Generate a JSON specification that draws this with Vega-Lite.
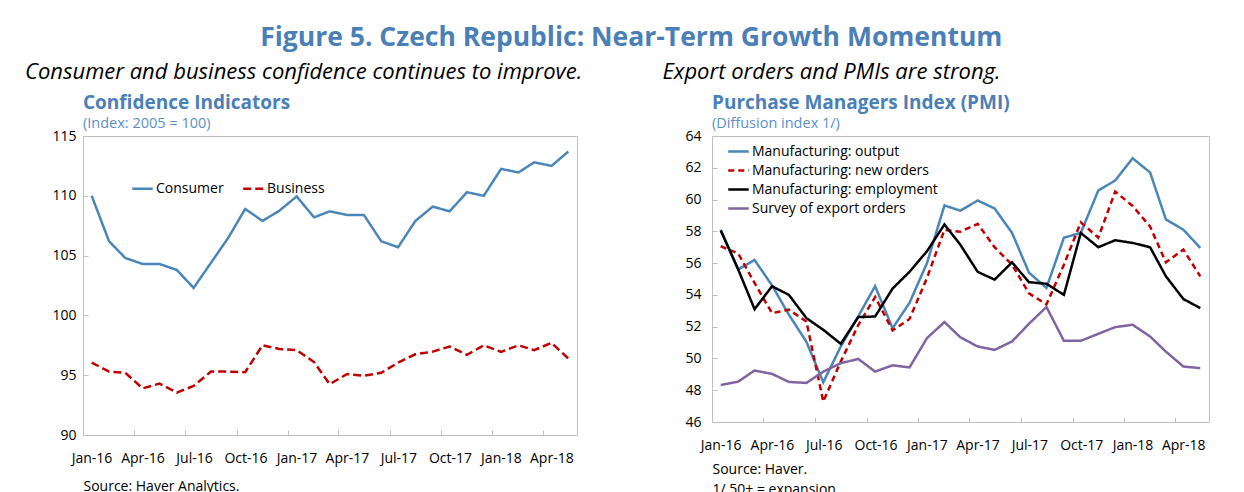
{
  "$schema": "https://vega.github.io/schema/vega-lite/v6.json",
  "padding": {"left": 24, "top": 24, "right": 0, "bottom": 0},
  "background": "white",
  "title": {"text": "Figure 5. Czech Republic: Near-Term Growth Momentum", "anchor": "middle", "fontSize": 26.5, "fontWeight": "bold", "color": "#4a7fb8", "font": "Open Sans", "offset": 10, "dx": 14},
  "resolve": {"scale": {"color": "independent", "strokeDash": "independent", "strokeWidth": "independent"}, "legend": {"color": "independent", "strokeDash": "independent", "strokeWidth": "independent"}},
  "datasets": {
    "conf": [
      {"date": "2016-01-01", "series": "Consumer", "value": 110.0},
      {"date": "2016-02-01", "series": "Consumer", "value": 106.2},
      {"date": "2016-03-01", "series": "Consumer", "value": 104.8},
      {"date": "2016-04-01", "series": "Consumer", "value": 104.3},
      {"date": "2016-05-01", "series": "Consumer", "value": 104.3},
      {"date": "2016-06-01", "series": "Consumer", "value": 103.8},
      {"date": "2016-07-01", "series": "Consumer", "value": 102.3},
      {"date": "2016-08-01", "series": "Consumer", "value": 104.4},
      {"date": "2016-09-01", "series": "Consumer", "value": 106.5},
      {"date": "2016-10-01", "series": "Consumer", "value": 108.9},
      {"date": "2016-11-01", "series": "Consumer", "value": 107.9},
      {"date": "2016-12-01", "series": "Consumer", "value": 108.75},
      {"date": "2017-01-01", "series": "Consumer", "value": 109.95},
      {"date": "2017-02-01", "series": "Consumer", "value": 108.2},
      {"date": "2017-03-01", "series": "Consumer", "value": 108.7},
      {"date": "2017-04-01", "series": "Consumer", "value": 108.4},
      {"date": "2017-05-01", "series": "Consumer", "value": 108.4},
      {"date": "2017-06-01", "series": "Consumer", "value": 106.2},
      {"date": "2017-07-01", "series": "Consumer", "value": 105.7},
      {"date": "2017-08-01", "series": "Consumer", "value": 107.9},
      {"date": "2017-09-01", "series": "Consumer", "value": 109.1},
      {"date": "2017-10-01", "series": "Consumer", "value": 108.7},
      {"date": "2017-11-01", "series": "Consumer", "value": 110.3},
      {"date": "2017-12-01", "series": "Consumer", "value": 110.0},
      {"date": "2018-01-01", "series": "Consumer", "value": 112.25},
      {"date": "2018-02-01", "series": "Consumer", "value": 111.95},
      {"date": "2018-03-01", "series": "Consumer", "value": 112.8},
      {"date": "2018-04-01", "series": "Consumer", "value": 112.5},
      {"date": "2018-05-01", "series": "Consumer", "value": 113.7},
      {"date": "2016-01-01", "series": "Business", "value": 96.06},
      {"date": "2016-02-01", "series": "Business", "value": 95.3},
      {"date": "2016-03-01", "series": "Business", "value": 95.2},
      {"date": "2016-04-01", "series": "Business", "value": 93.9},
      {"date": "2016-05-01", "series": "Business", "value": 94.3},
      {"date": "2016-06-01", "series": "Business", "value": 93.55},
      {"date": "2016-07-01", "series": "Business", "value": 94.1},
      {"date": "2016-08-01", "series": "Business", "value": 95.3},
      {"date": "2016-09-01", "series": "Business", "value": 95.3},
      {"date": "2016-10-01", "series": "Business", "value": 95.25},
      {"date": "2016-11-01", "series": "Business", "value": 97.5},
      {"date": "2016-12-01", "series": "Business", "value": 97.2},
      {"date": "2017-01-01", "series": "Business", "value": 97.1},
      {"date": "2017-02-01", "series": "Business", "value": 96.1},
      {"date": "2017-03-01", "series": "Business", "value": 94.25},
      {"date": "2017-04-01", "series": "Business", "value": 95.1},
      {"date": "2017-05-01", "series": "Business", "value": 94.95},
      {"date": "2017-06-01", "series": "Business", "value": 95.2},
      {"date": "2017-07-01", "series": "Business", "value": 96.05},
      {"date": "2017-08-01", "series": "Business", "value": 96.75},
      {"date": "2017-09-01", "series": "Business", "value": 96.97},
      {"date": "2017-10-01", "series": "Business", "value": 97.4},
      {"date": "2017-11-01", "series": "Business", "value": 96.7},
      {"date": "2017-12-01", "series": "Business", "value": 97.5},
      {"date": "2018-01-01", "series": "Business", "value": 96.95},
      {"date": "2018-02-01", "series": "Business", "value": 97.5},
      {"date": "2018-03-01", "series": "Business", "value": 97.1},
      {"date": "2018-04-01", "series": "Business", "value": 97.7},
      {"date": "2018-05-01", "series": "Business", "value": 96.4}
    ],
    "pmi": [
      {"date": "2016-01-01", "series": "Manufacturing: output", "value": 58.1},
      {"date": "2016-02-01", "series": "Manufacturing: output", "value": 55.6},
      {"date": "2016-03-01", "series": "Manufacturing: output", "value": 56.2},
      {"date": "2016-04-01", "series": "Manufacturing: output", "value": 54.6},
      {"date": "2016-05-01", "series": "Manufacturing: output", "value": 52.75},
      {"date": "2016-06-01", "series": "Manufacturing: output", "value": 51.05},
      {"date": "2016-07-01", "series": "Manufacturing: output", "value": 48.5},
      {"date": "2016-08-01", "series": "Manufacturing: output", "value": 50.75},
      {"date": "2016-09-01", "series": "Manufacturing: output", "value": 52.65},
      {"date": "2016-10-01", "series": "Manufacturing: output", "value": 54.55},
      {"date": "2016-11-01", "series": "Manufacturing: output", "value": 51.9},
      {"date": "2016-12-01", "series": "Manufacturing: output", "value": 53.5},
      {"date": "2017-01-01", "series": "Manufacturing: output", "value": 56.0},
      {"date": "2017-02-01", "series": "Manufacturing: output", "value": 59.63},
      {"date": "2017-03-01", "series": "Manufacturing: output", "value": 59.3},
      {"date": "2017-04-01", "series": "Manufacturing: output", "value": 59.94},
      {"date": "2017-05-01", "series": "Manufacturing: output", "value": 59.44},
      {"date": "2017-06-01", "series": "Manufacturing: output", "value": 57.9},
      {"date": "2017-07-01", "series": "Manufacturing: output", "value": 55.4},
      {"date": "2017-08-01", "series": "Manufacturing: output", "value": 54.44},
      {"date": "2017-09-01", "series": "Manufacturing: output", "value": 57.6},
      {"date": "2017-10-01", "series": "Manufacturing: output", "value": 57.9},
      {"date": "2017-11-01", "series": "Manufacturing: output", "value": 60.57},
      {"date": "2017-12-01", "series": "Manufacturing: output", "value": 61.2},
      {"date": "2018-01-01", "series": "Manufacturing: output", "value": 62.6},
      {"date": "2018-02-01", "series": "Manufacturing: output", "value": 61.7},
      {"date": "2018-03-01", "series": "Manufacturing: output", "value": 58.75},
      {"date": "2018-04-01", "series": "Manufacturing: output", "value": 58.1},
      {"date": "2018-05-01", "series": "Manufacturing: output", "value": 56.96},
      {"date": "2016-01-01", "series": "Manufacturing: new orders", "value": 57.06},
      {"date": "2016-02-01", "series": "Manufacturing: new orders", "value": 56.6},
      {"date": "2016-03-01", "series": "Manufacturing: new orders", "value": 54.75},
      {"date": "2016-04-01", "series": "Manufacturing: new orders", "value": 52.85},
      {"date": "2016-05-01", "series": "Manufacturing: new orders", "value": 53.07},
      {"date": "2016-06-01", "series": "Manufacturing: new orders", "value": 52.33},
      {"date": "2016-07-01", "series": "Manufacturing: new orders", "value": 47.28},
      {"date": "2016-08-01", "series": "Manufacturing: new orders", "value": 49.8},
      {"date": "2016-09-01", "series": "Manufacturing: new orders", "value": 52.1},
      {"date": "2016-10-01", "series": "Manufacturing: new orders", "value": 53.87},
      {"date": "2016-11-01", "series": "Manufacturing: new orders", "value": 51.76},
      {"date": "2016-12-01", "series": "Manufacturing: new orders", "value": 52.48},
      {"date": "2017-01-01", "series": "Manufacturing: new orders", "value": 55.07},
      {"date": "2017-02-01", "series": "Manufacturing: new orders", "value": 58.1},
      {"date": "2017-03-01", "series": "Manufacturing: new orders", "value": 57.97},
      {"date": "2017-04-01", "series": "Manufacturing: new orders", "value": 58.47},
      {"date": "2017-05-01", "series": "Manufacturing: new orders", "value": 57.0},
      {"date": "2017-06-01", "series": "Manufacturing: new orders", "value": 55.9},
      {"date": "2017-07-01", "series": "Manufacturing: new orders", "value": 54.1},
      {"date": "2017-08-01", "series": "Manufacturing: new orders", "value": 53.4},
      {"date": "2017-09-01", "series": "Manufacturing: new orders", "value": 55.9},
      {"date": "2017-10-01", "series": "Manufacturing: new orders", "value": 58.57},
      {"date": "2017-11-01", "series": "Manufacturing: new orders", "value": 57.6},
      {"date": "2017-12-01", "series": "Manufacturing: new orders", "value": 60.5},
      {"date": "2018-01-01", "series": "Manufacturing: new orders", "value": 59.6},
      {"date": "2018-02-01", "series": "Manufacturing: new orders", "value": 58.3},
      {"date": "2018-03-01", "series": "Manufacturing: new orders", "value": 56.05},
      {"date": "2018-04-01", "series": "Manufacturing: new orders", "value": 56.85},
      {"date": "2018-05-01", "series": "Manufacturing: new orders", "value": 55.17},
      {"date": "2016-01-01", "series": "Manufacturing: employment", "value": 58.05},
      {"date": "2016-02-01", "series": "Manufacturing: employment", "value": 55.6},
      {"date": "2016-03-01", "series": "Manufacturing: employment", "value": 53.1},
      {"date": "2016-04-01", "series": "Manufacturing: employment", "value": 54.54},
      {"date": "2016-05-01", "series": "Manufacturing: employment", "value": 54.0},
      {"date": "2016-06-01", "series": "Manufacturing: employment", "value": 52.54},
      {"date": "2016-07-01", "series": "Manufacturing: employment", "value": 51.8},
      {"date": "2016-08-01", "series": "Manufacturing: employment", "value": 50.92},
      {"date": "2016-09-01", "series": "Manufacturing: employment", "value": 52.6},
      {"date": "2016-10-01", "series": "Manufacturing: employment", "value": 52.64},
      {"date": "2016-11-01", "series": "Manufacturing: employment", "value": 54.4},
      {"date": "2016-12-01", "series": "Manufacturing: employment", "value": 55.45},
      {"date": "2017-01-01", "series": "Manufacturing: employment", "value": 56.75},
      {"date": "2017-02-01", "series": "Manufacturing: employment", "value": 58.43},
      {"date": "2017-03-01", "series": "Manufacturing: employment", "value": 57.17},
      {"date": "2017-04-01", "series": "Manufacturing: employment", "value": 55.45},
      {"date": "2017-05-01", "series": "Manufacturing: employment", "value": 54.96},
      {"date": "2017-06-01", "series": "Manufacturing: employment", "value": 56.05},
      {"date": "2017-07-01", "series": "Manufacturing: employment", "value": 54.8},
      {"date": "2017-08-01", "series": "Manufacturing: employment", "value": 54.7},
      {"date": "2017-09-01", "series": "Manufacturing: employment", "value": 54.0},
      {"date": "2017-10-01", "series": "Manufacturing: employment", "value": 57.9},
      {"date": "2017-11-01", "series": "Manufacturing: employment", "value": 57.0},
      {"date": "2017-12-01", "series": "Manufacturing: employment", "value": 57.44},
      {"date": "2018-01-01", "series": "Manufacturing: employment", "value": 57.27},
      {"date": "2018-02-01", "series": "Manufacturing: employment", "value": 57.0},
      {"date": "2018-03-01", "series": "Manufacturing: employment", "value": 55.17},
      {"date": "2018-04-01", "series": "Manufacturing: employment", "value": 53.74},
      {"date": "2018-05-01", "series": "Manufacturing: employment", "value": 53.17},
      {"date": "2016-01-01", "series": "Survey of export orders", "value": 48.33},
      {"date": "2016-02-01", "series": "Survey of export orders", "value": 48.54},
      {"date": "2016-03-01", "series": "Survey of export orders", "value": 49.24},
      {"date": "2016-04-01", "series": "Survey of export orders", "value": 49.03},
      {"date": "2016-05-01", "series": "Survey of export orders", "value": 48.52},
      {"date": "2016-06-01", "series": "Survey of export orders", "value": 48.46},
      {"date": "2016-07-01", "series": "Survey of export orders", "value": 49.17},
      {"date": "2016-08-01", "series": "Survey of export orders", "value": 49.7},
      {"date": "2016-09-01", "series": "Survey of export orders", "value": 49.97},
      {"date": "2016-10-01", "series": "Survey of export orders", "value": 49.17},
      {"date": "2016-11-01", "series": "Survey of export orders", "value": 49.57},
      {"date": "2016-12-01", "series": "Survey of export orders", "value": 49.43},
      {"date": "2017-01-01", "series": "Survey of export orders", "value": 51.28},
      {"date": "2017-02-01", "series": "Survey of export orders", "value": 52.29},
      {"date": "2017-03-01", "series": "Survey of export orders", "value": 51.34},
      {"date": "2017-04-01", "series": "Survey of export orders", "value": 50.75},
      {"date": "2017-05-01", "series": "Survey of export orders", "value": 50.54},
      {"date": "2017-06-01", "series": "Survey of export orders", "value": 51.07},
      {"date": "2017-07-01", "series": "Survey of export orders", "value": 52.18},
      {"date": "2017-08-01", "series": "Survey of export orders", "value": 53.24},
      {"date": "2017-09-01", "series": "Survey of export orders", "value": 51.11},
      {"date": "2017-10-01", "series": "Survey of export orders", "value": 51.11},
      {"date": "2017-11-01", "series": "Survey of export orders", "value": 51.55},
      {"date": "2017-12-01", "series": "Survey of export orders", "value": 51.97},
      {"date": "2018-01-01", "series": "Survey of export orders", "value": 52.12},
      {"date": "2018-02-01", "series": "Survey of export orders", "value": 51.38},
      {"date": "2018-03-01", "series": "Survey of export orders", "value": 50.43},
      {"date": "2018-04-01", "series": "Survey of export orders", "value": 49.49},
      {"date": "2018-05-01", "series": "Survey of export orders", "value": 49.39}
    ]
  },
  "spacing": 79,
  "hconcat": [
    {
      "title": {"text": "Consumer and business confidence continues to improve.", "anchor": "start", "fontSize": 22, "fontStyle": "italic", "fontWeight": "normal", "color": "#000000", "font": "Open Sans", "dx": -26.5, "offset": 9},
      "vconcat": [
        {
          "width": 494,
          "height": 299,
          "title": {"text": "Confidence Indicators", "subtitle": "(Index: 2005 = 100)", "anchor": "start", "frame": "group", "fontSize": 19, "fontWeight": "bold", "color": "#4a7fb8", "font": "Open Sans", "subtitleFont": "Open Sans", "subtitleFontSize": 14.5, "subtitleColor": "#5b8fc7", "subtitlePadding": 4, "offset": -1},
          "data": {"name": "conf"},
          "mark": {"type": "line", "strokeWidth": 2.5},
          "encoding": {
            "x": {
              "field": "date", "type": "temporal",
              "scale": {"type": "utc", "domain": [{"year": 2015, "month": 12, "date": 16, "hours": 12, "utc": true}, {"year": 2018, "month": 5, "date": 16, "hours": 12, "utc": true}]},
              "axis": {
                "values": [
                  {"year": 2015, "month": 12, "date": 16, "hours": 12, "utc": true},
                  {"year": 2016, "month": 3, "date": 16, "hours": 12, "utc": true},
                  {"year": 2016, "month": 6, "date": 16, "hours": 12, "utc": true},
                  {"year": 2016, "month": 9, "date": 16, "hours": 12, "utc": true},
                  {"year": 2016, "month": 12, "date": 16, "hours": 12, "utc": true},
                  {"year": 2017, "month": 3, "date": 16, "hours": 12, "utc": true},
                  {"year": 2017, "month": 6, "date": 16, "hours": 12, "utc": true},
                  {"year": 2017, "month": 9, "date": 16, "hours": 12, "utc": true},
                  {"year": 2017, "month": 12, "date": 16, "hours": 12, "utc": true},
                  {"year": 2018, "month": 3, "date": 16, "hours": 12, "utc": true}
                ],
                "labelExpr": "utcFormat(time(datum.value) + 1339200000, '%b-%y')",
                "labelOffset": 8.5,
                "labelPadding": 21,
                "tickSize": -5,
                "title": "Source: Haver Analytics.",
                "titlePadding": 14
              }
            },
            "y": {
              "field": "value", "type": "quantitative",
              "scale": {"domain": [90, 115], "nice": false, "zero": false},
              "axis": {"values": [90, 95, 100, 105, 110, 115], "title": null, "tickSize": -5, "labelPadding": 12}
            },
            "color": {
              "field": "series", "type": "nominal",
              "scale": {"domain": ["Consumer", "Business"], "range": ["#4a86b8", "#c00000"]},
              "legend": {"title": null, "orient": "none", "legendX": 48, "legendY": 41, "direction": "horizontal", "columnPadding": 14}
            },
            "strokeDash": {
              "field": "series", "type": "nominal",
              "scale": {"domain": ["Consumer", "Business"], "range": [[1, 0], [8, 4]]}
            }
          }
        }
      ]
    },
    {
      "title": {"text": "Export orders and PMIs are strong.", "anchor": "start", "fontSize": 22, "fontStyle": "italic", "fontWeight": "normal", "color": "#000000", "font": "Open Sans", "dx": -22, "offset": 9},
      "vconcat": [
        {
          "width": 497,
          "height": 286,
          "title": {"text": "Purchase Managers Index (PMI)", "subtitle": "(Diffusion index 1/)", "anchor": "start", "frame": "group", "fontSize": 19, "fontWeight": "bold", "color": "#4a7fb8", "font": "Open Sans", "subtitleFont": "Open Sans", "subtitleFontSize": 14.5, "subtitleColor": "#5b8fc7", "subtitlePadding": 4, "offset": -1},
          "data": {"name": "pmi"},
          "mark": {"type": "line"},
          "encoding": {
            "x": {
              "field": "date", "type": "temporal",
              "scale": {"type": "utc", "domain": [{"year": 2015, "month": 12, "date": 16, "hours": 12, "utc": true}, {"year": 2018, "month": 5, "date": 16, "hours": 12, "utc": true}]},
              "axis": {
                "values": [
                  {"year": 2015, "month": 12, "date": 16, "hours": 12, "utc": true},
                  {"year": 2016, "month": 3, "date": 16, "hours": 12, "utc": true},
                  {"year": 2016, "month": 6, "date": 16, "hours": 12, "utc": true},
                  {"year": 2016, "month": 9, "date": 16, "hours": 12, "utc": true},
                  {"year": 2016, "month": 12, "date": 16, "hours": 12, "utc": true},
                  {"year": 2017, "month": 3, "date": 16, "hours": 12, "utc": true},
                  {"year": 2017, "month": 6, "date": 16, "hours": 12, "utc": true},
                  {"year": 2017, "month": 9, "date": 16, "hours": 12, "utc": true},
                  {"year": 2017, "month": 12, "date": 16, "hours": 12, "utc": true},
                  {"year": 2018, "month": 3, "date": 16, "hours": 12, "utc": true}
                ],
                "labelExpr": "utcFormat(time(datum.value) + 1339200000, '%b-%y')",
                "labelOffset": 8.6,
                "labelPadding": 21,
                "tickSize": -5,
                "title": ["Source: Haver.", "1/ 50+ = expansion"],
                "titlePadding": 10,
                "titleLineHeight": 20
              }
            },
            "y": {
              "field": "value", "type": "quantitative",
              "scale": {"domain": [46, 64], "nice": false, "zero": false},
              "axis": {"values": [46, 48, 50, 52, 54, 56, 58, 60, 62, 64], "title": null, "tickSize": -5, "labelPadding": 16}
            },
            "color": {
              "field": "series", "type": "nominal",
              "scale": {"domain": ["Manufacturing: output", "Manufacturing: new orders", "Manufacturing: employment", "Survey of export orders"], "range": ["#4a86b8", "#c00000", "#000000", "#8064a2"]},
              "legend": {"title": null, "orient": "none", "legendX": 15, "legendY": 4, "direction": "vertical", "rowPadding": -1.5, "labelLimit": 400}
            },
            "strokeDash": {
              "field": "series", "type": "nominal",
              "scale": {"domain": ["Manufacturing: output", "Manufacturing: new orders", "Manufacturing: employment", "Survey of export orders"], "range": [[1, 0], [6, 4], [1, 0], [1, 0]]}
            },
            "strokeWidth": {
              "field": "series", "type": "nominal",
              "scale": {"domain": ["Manufacturing: output", "Manufacturing: new orders", "Manufacturing: employment", "Survey of export orders"], "range": [2.5, 2.5, 2.5, 1.8]}
            }
          }
        }
      ]
    }
  ],
  "config": {
    "font": "Open Sans",
    "view": {"stroke": "#bfbfbf", "strokeWidth": 1},
    "axis": {"grid": false, "domain": false, "tickColor": "#bfbfbf", "labelColor": "#000000", "labelFontSize": 14, "labelFont": "Open Sans", "labelOverlap": false, "labelFlush": false, "titleFont": "Open Sans", "titleFontSize": 14, "titleFontWeight": "normal", "titleColor": "#000000", "titleAnchor": "start", "titleAlign": "left"},
    "legend": {"symbolType": "stroke", "symbolSize": 420, "symbolStrokeWidth": 2.5, "labelFontSize": 14, "labelFont": "Open Sans", "labelColor": "#000000", "labelOffset": 2, "labelLimit": 400, "padding": 0}
  }
}
